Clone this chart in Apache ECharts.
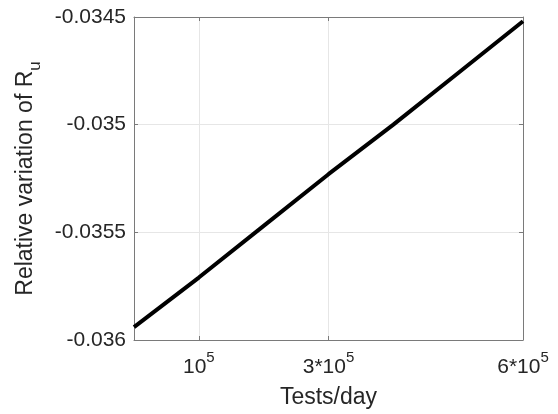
<!DOCTYPE html>
<html>
<head>
<meta charset="utf-8">
<script src="https://cdn.jsdelivr.net/npm/echarts@6/dist/echarts.min.js"></script>
<style>
  html, body { margin: 0; padding: 0; background: #fff; }
  #chart { width: 558px; height: 414px; }
</style>
</head>
<body>
<div id="chart"></div>
<script>
// tests per day and relative variation of R_u
const testsPerDay = [0, 100000, 200000, 300000, 400000, 500000, 600000];
const relVariation = [-0.03594, -0.03571, -0.03547, -0.03523, -0.03500, -0.03476, -0.03452];
const xTickValues = [100000, 300000, 600000];
const xTickTexts = ["{b|10}{s|5}", "{b|3*10}{s|5}", "{b|6*10}{s|5}"];

const chart = echarts.init(document.getElementById("chart"));

const font = "Liberation Sans, Arial, sans-serif";
const textColor = "#262626";
const boxColor = "#7a7a7a";
const gridColor = "#e6e6e6";

const supRich = {
  b: { fontSize: 21, fontFamily: font, color: textColor, lineHeight: 28, verticalAlign: "bottom" },
  s: { fontSize: 15, fontFamily: font, color: textColor, lineHeight: 15, verticalAlign: "top" },
};

const option = {
  animation: false,
  grid: { left: 134, right: 35, top: 17, bottom: 73 },
  xAxis: [
    {
      type: "value",
      min: 0,
      max: 600000,
      position: "bottom",
      name: "Tests/day",
      nameLocation: "middle",
      nameGap: 46,
      nameTextStyle: { fontSize: 23, fontFamily: font, color: textColor },
      axisLine: { show: true, onZero: false, lineStyle: { color: boxColor, width: 1 } },
      axisTick: { show: true, inside: true, length: 4, customValues: xTickValues, lineStyle: { color: boxColor } },
      axisLabel: {
        customValues: xTickValues,
        margin: 10,
        formatter: (v) => xTickTexts[xTickValues.indexOf(v)],
        rich: supRich,
      },
      splitLine: { show: true, lineStyle: { color: gridColor, width: 1 } },
    },
    {
      type: "value",
      min: 0,
      max: 600000,
      position: "top",
      axisLine: { show: true, onZero: false, lineStyle: { color: boxColor, width: 1 } },
      axisTick: { show: true, inside: true, length: 4, customValues: xTickValues, lineStyle: { color: boxColor } },
      axisLabel: { show: false },
      splitLine: { show: false },
    },
  ],
  yAxis: [
    {
      type: "value",
      min: -0.036,
      max: -0.0345,
      interval: 0.0005,
      position: "left",
      name: "{a|Relative variation of R}{u|u}",
      nameLocation: "middle",
      nameGap: 78,
      nameTextStyle: {
        rich: {
          a: { fontSize: 23, fontFamily: font, color: textColor, lineHeight: 30, verticalAlign: "top" },
          u: { fontSize: 17, fontFamily: font, color: textColor, lineHeight: 17, verticalAlign: "bottom" },
        },
      },
      axisLine: { show: true, onZero: false, lineStyle: { color: boxColor, width: 1 } },
      axisTick: { show: true, inside: true, length: 4, lineStyle: { color: boxColor } },
      axisLabel: {
        fontSize: 21,
        fontFamily: font,
        color: textColor,
        margin: 8,
        formatter: (v) => String(+v.toFixed(4)),
      },
      splitLine: { show: true, lineStyle: { color: gridColor, width: 1 } },
    },
    {
      type: "value",
      min: -0.036,
      max: -0.0345,
      interval: 0.0005,
      position: "right",
      axisLine: { show: true, onZero: false, lineStyle: { color: boxColor, width: 1 } },
      axisTick: { show: true, inside: true, length: 4, lineStyle: { color: boxColor } },
      axisLabel: { show: false },
      splitLine: { show: false },
    },
  ],
  series: [
    {
      type: "line",
      xAxisIndex: 0,
      yAxisIndex: 0,
      data: testsPerDay.map((x, i) => [x, relVariation[i]]),
      showSymbol: false,
      lineStyle: { color: "#000", width: 4 },
    },
  ],
};

chart.setOption(option);
</script>
</body>
</html>
